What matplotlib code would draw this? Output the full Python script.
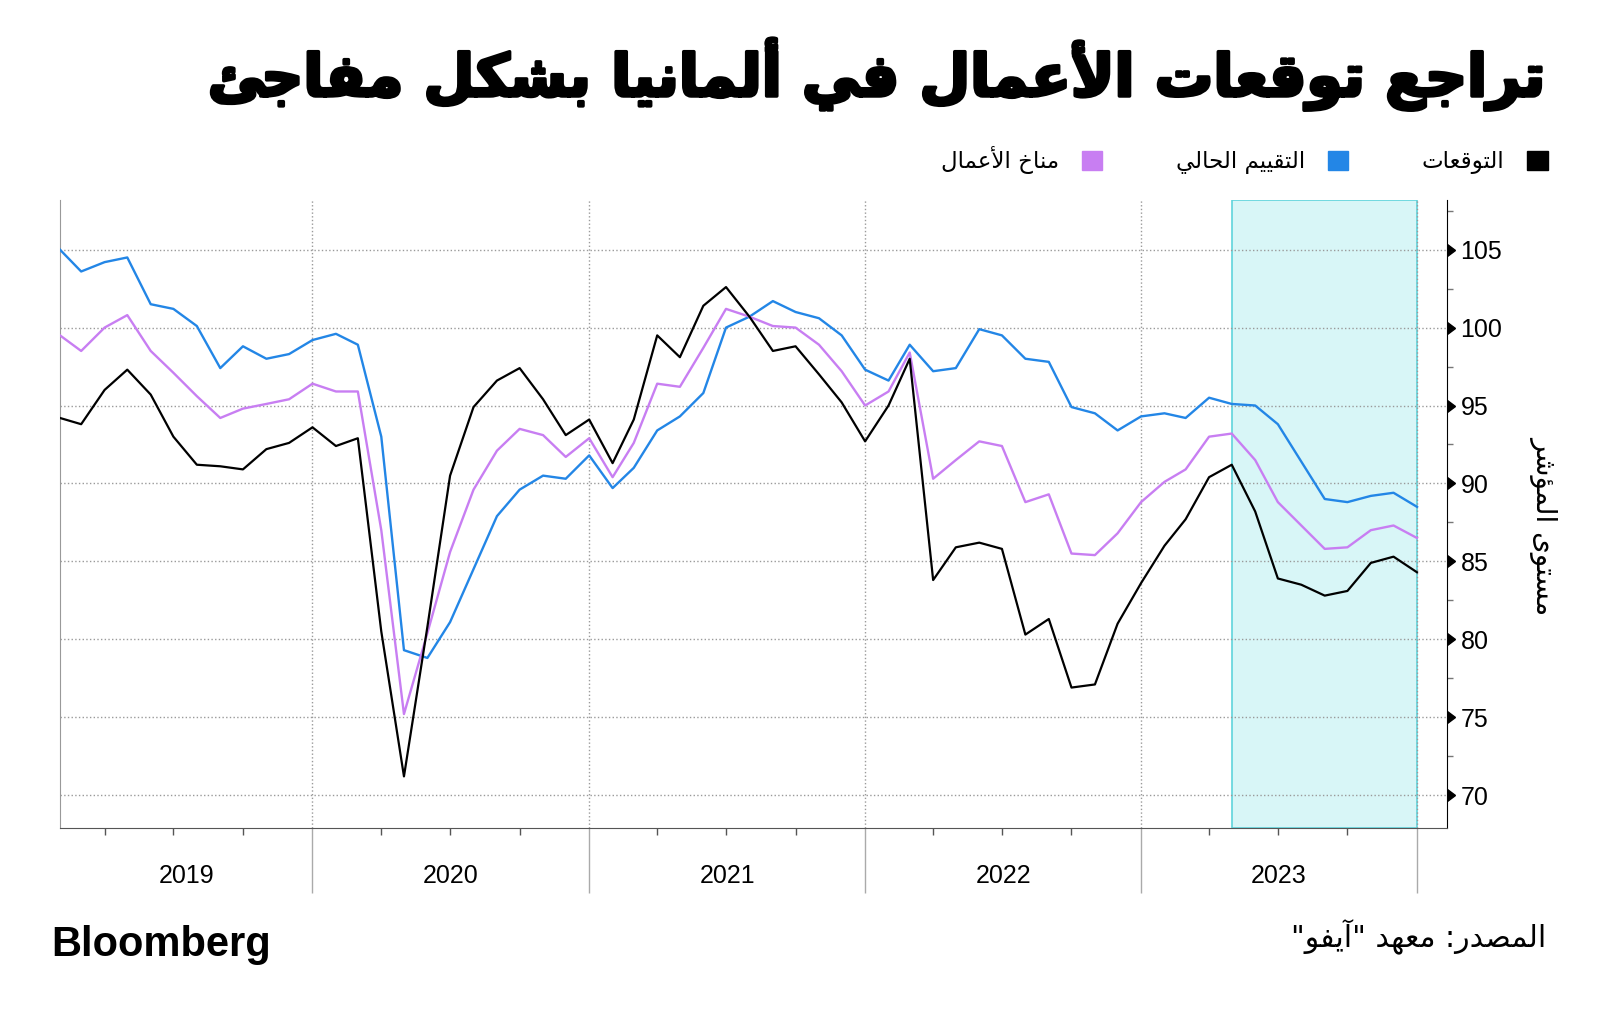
import numpy as np
import pandas as pd
import matplotlib
matplotlib.use("Agg")
import matplotlib.pyplot as plt
import matplotlib.transforms as mtrans
import matplotlib.patheffects as pe
from matplotlib.patches import Patch
from matplotlib import markers

# ifo indices, monthly Jan 2019 - Dec 2023
months = pd.date_range("2019-01-01", periods=60, freq="MS") + pd.offsets.MonthEnd(0)

expectations = [94.2, 93.8, 96.0, 97.3, 95.7, 93.0, 91.2, 91.1, 90.9, 92.2, 92.6, 93.6,
                92.4, 92.9, 80.5, 71.2, 80.8, 90.5, 94.9, 96.6, 97.4, 95.4, 93.1, 94.1,
                91.3, 94.1, 99.5, 98.1, 101.4, 102.6, 100.7, 98.5, 98.8, 97.0, 95.2, 92.7,
                95.0, 98.0, 83.8, 85.9, 86.2, 85.8, 80.3, 81.3, 76.9, 77.1, 81.0, 83.6,
                86.0, 87.7, 90.4, 91.2, 88.2, 83.9, 83.5, 82.8, 83.1, 84.9, 85.3, 84.3]

current = [105.0, 103.6, 104.2, 104.5, 101.5, 101.2, 100.1, 97.4, 98.8, 98.0, 98.3, 99.2,
           99.6, 98.9, 93.0, 79.3, 78.8, 81.1, 84.5, 87.9, 89.6, 90.5, 90.3, 91.8,
           89.7, 91.0, 93.4, 94.3, 95.8, 100.0, 100.7, 101.7, 101.0, 100.6, 99.5, 97.3,
           96.6, 98.9, 97.2, 97.4, 99.9, 99.5, 98.0, 97.8, 94.9, 94.5, 93.4, 94.3,
           94.5, 94.2, 95.5, 95.1, 95.0, 93.8, 91.4, 89.0, 88.8, 89.2, 89.4, 88.5]

climate = [99.5, 98.5, 100.0, 100.8, 98.5, 97.1, 95.6, 94.2, 94.8, 95.1, 95.4, 96.4,
           95.9, 95.9, 87.0, 75.2, 80.4, 85.6, 89.6, 92.1, 93.5, 93.1, 91.7, 92.9,
           90.4, 92.6, 96.4, 96.2, 98.7, 101.2, 100.7, 100.1, 100.0, 98.9, 97.2, 95.0,
           95.9, 98.4, 90.3, 91.5, 92.7, 92.4, 88.8, 89.3, 85.5, 85.4, 86.8, 88.8,
           90.1, 90.9, 93.0, 93.2, 91.5, 88.8, 87.3, 85.8, 85.9, 87.0, 87.3, 86.5]

years = [2019, 2020, 2021, 2022, 2023]
shade_from, shade_to = "2023-04-30", "2023-12-31"
y_ticks = [70, 75, 80, 85, 90, 95, 100, 105]

title = "تراجع توقعات الأعمال في ألمانيا بشكل مفاجئ"
lbl_exp = "التوقعات"
lbl_cur = "التقييم الحالي"
lbl_clim = "مناخ الأعمال"
ylab = "مستوى المؤشر"
source = 'المصدر: معهد "آيفو"'

BLUE = "#2386e6"
PURPLE = "#c87ef2"

# --- tiny arabic shaper (matplotlib has no text shaping) ---
FORMS = {"ء": (0xFE80,), "آ": (0xFE81, 0xFE82), "أ": (0xFE83, 0xFE84),
         "ؤ": (0xFE85, 0xFE86), "إ": (0xFE87, 0xFE88), "ا": (0xFE8D, 0xFE8E),
         "ة": (0xFE93, 0xFE94), "د": (0xFEA9, 0xFEAA), "ذ": (0xFEAB, 0xFEAC),
         "ر": (0xFEAD, 0xFEAE), "ز": (0xFEAF, 0xFEB0), "و": (0xFEED, 0xFEEE),
         "ى": (0xFEEF, 0xFEF0)}
for ch, base in [("ئ", 0xFE89), ("ب", 0xFE8F), ("ت", 0xFE95), ("ث", 0xFE99),
                 ("ج", 0xFE9D), ("ح", 0xFEA1), ("خ", 0xFEA5), ("س", 0xFEB1),
                 ("ش", 0xFEB5), ("ص", 0xFEB9), ("ض", 0xFEBD), ("ط", 0xFEC1),
                 ("ظ", 0xFEC5), ("ع", 0xFEC9), ("غ", 0xFECD), ("ف", 0xFED1),
                 ("ق", 0xFED5), ("ك", 0xFED9), ("ل", 0xFEDD), ("م", 0xFEE1),
                 ("ن", 0xFEE5), ("ه", 0xFEE9), ("ي", 0xFEF1)]:
    FORMS[ch] = (base, base + 1, base + 2, base + 3)
LAM_ALEF = {"آ": (0xFEF5, 0xFEF6), "أ": (0xFEF7, 0xFEF8),
            "إ": (0xFEF9, 0xFEFA), "ا": (0xFEFB, 0xFEFC)}


def shape(s):
    toks = []
    i = 0
    while i < len(s):
        c = s[i]
        if c == "ل" and i + 1 < len(s) and s[i + 1] in LAM_ALEF:
            toks.append(LAM_ALEF[s[i + 1]])
            i += 2
        else:
            toks.append(FORMS.get(c, c))
            i += 1
    out = []
    for k, t in enumerate(toks):
        if isinstance(t, str):
            out.append(t)
            continue
        prev = toks[k - 1] if k > 0 else None
        nxt = toks[k + 1] if k + 1 < len(toks) else None
        jp = isinstance(prev, tuple) and len(prev) == 4 and len(t) >= 2
        jn = len(t) == 4 and isinstance(nxt, tuple) and len(nxt) >= 2
        if jp and jn:
            cp = t[3]
        elif jp:
            cp = t[1]
        elif jn:
            cp = t[2]
        else:
            cp = t[0]
        out.append(chr(cp))
    return "".join(reversed(out))


AR = ["DejaVu Sans"]
NUM = ["Liberation Sans Narrow", "Liberation Sans", "DejaVu Sans"]

fig = plt.figure(figsize=(16, 10.22), dpi=100)
ax = fig.add_axes([0.0375, 0.19, 0.867, 0.6145])

ax.axvspan(pd.Timestamp(shade_from), pd.Timestamp(shade_to), facecolor="#d8f6f7",
           edgecolor="#5fd4dc", linewidth=1.2, zorder=0)

ax.plot(months, current, color=BLUE, lw=1.7, zorder=3)
ax.plot(months, climate, color=PURPLE, lw=1.7, zorder=3)
ax.plot(months, expectations, color="black", lw=1.6, zorder=4)

xmin = months[0]
xmax = months[-1] + pd.Timedelta(days=40)
ax.set_xlim(xmin, xmax)
ax.set_ylim(67.9, 108.2)

# y axis on the right
ax.yaxis.tick_right()
ax.set_yticks(y_ticks)
ax.set_yticks(np.arange(72.5, 108, 5), minor=True)
ax.set_yticklabels([str(v) for v in y_ticks], family=NUM, fontsize=18)
ax.tick_params(axis="y", which="major", length=8, width=1, pad=1.5, colors="black")
ax.tick_params(axis="y", which="minor", length=4, width=1, color="#777777")
for t in ax.yaxis.get_major_ticks():
    t.tick2line.set_marker(markers.CARETRIGHTBASE)
    t.tick2line.set_markersize(8)
ax.set_ylabel(shape(ylab), rotation=270, va="center", ha="center",
              family=AR, fontsize=20)
ax.yaxis.set_label_position("right")
ax.yaxis.set_label_coords(1.08, 0.482)

# x axis: year boundaries and quarters
bounds = [pd.Timestamp(f"{y}-12-31") for y in years]
quarters = [pd.Timestamp(f"{y}-{m:02d}-01") + pd.offsets.MonthEnd(0)
            for y in years for m in (3, 6, 9)]
ax.set_xticks(bounds)
ax.set_xticks(quarters, minor=True)
ax.set_xticklabels([])
ax.tick_params(axis="x", which="major", length=47, width=1, color="#aaaaaa")
ax.tick_params(axis="x", which="minor", length=5, width=1, color="#555555")
tr = mtrans.blended_transform_factory(ax.transData, ax.transAxes)
for y, b in zip(years, bounds):
    start = max(pd.Timestamp(f"{y}-01-01") - pd.Timedelta(days=1), xmin)
    ax.text(start + (b - start) / 2, -0.077, str(y), transform=tr, ha="center",
            va="center", family=NUM, fontsize=18)

ax.grid(True, axis="y", which="major", linestyle=":", color="#9a9a9a", lw=1)
ax.grid(True, axis="x", which="major", linestyle=":", color="#9a9a9a", lw=1)
ax.set_axisbelow(True)

ax.spines["top"].set_visible(False)
ax.spines["left"].set_color("#999999")
ax.spines["bottom"].set_color("#555555")
ax.spines["right"].set_color("black")

# title, legend, footer
fig.text(0.967, 1 - 96 / 1022, shape(title), ha="right", va="baseline", family=AR,
         fontsize=42, fontweight="bold",
         path_effects=[pe.withStroke(linewidth=2.5, foreground="black")])

handles = [Patch(color=PURPLE), Patch(color=BLUE), Patch(color="black")]
labels = [shape(lbl_clim), shape(lbl_cur), shape(lbl_exp)]
fig.legend(handles, labels, loc="center right", bbox_to_anchor=(1548 / 1600, 1 - 160 / 1022),
           ncol=3, frameon=False, markerfirst=False, prop={"family": AR, "size": 16.5},
           handlelength=0.9, handleheight=0.9, handletextpad=1.0, columnspacing=3.2,
           borderaxespad=0, borderpad=0)

fig.text(1546 / 1600, 1 - 937 / 1022, shape(source), ha="right", va="center",
         family=AR, fontsize=21.5)
fig.text(51 / 1600, 1 - 945 / 1022, "Bloomberg", ha="left", va="center",
         family=["Liberation Sans", "DejaVu Sans"], fontsize=30, fontweight="bold")

fig.savefig("out.png", dpi=100, facecolor="white")
